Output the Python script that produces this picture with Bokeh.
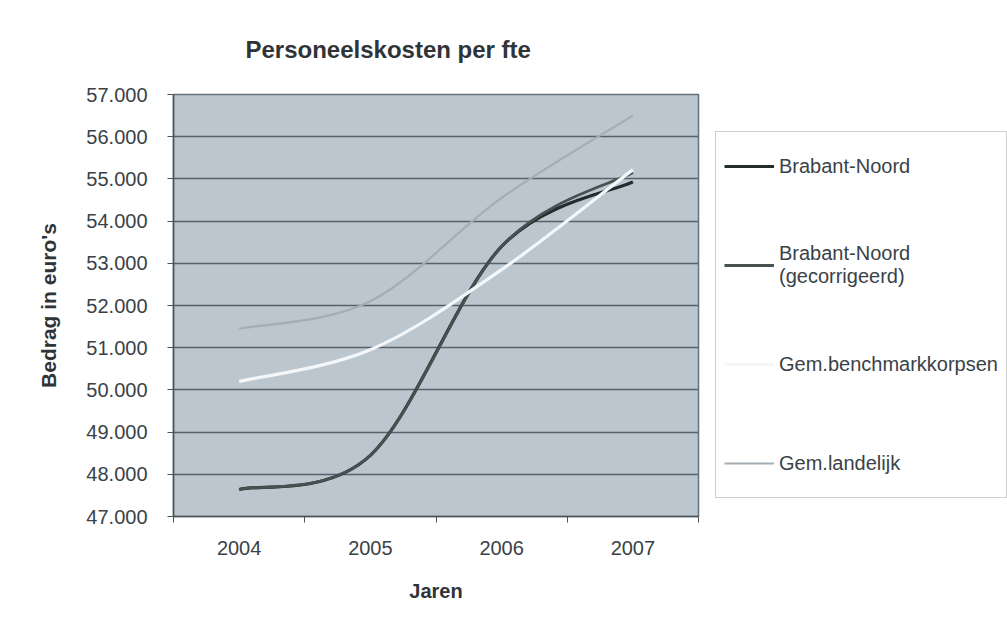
from bokeh.plotting import figure
from bokeh.models import ColumnDataSource, Range1d, FixedTicker, Legend, LegendItem
from bokeh.embed import file_html
from bokeh.resources import INLINE

# ---- data ----
years = [2004, 2005, 2006, 2007]
brabant_noord = [47640, 48450, 53400, 54930]
brabant_noord_gecorrigeerd = [47640, 48450, 53400, 55150]
gem_benchmarkkorpsen = [50200, 50950, 52850, 55220]
gem_landelijk = [51450, 52100, 54550, 56500]
series_labels = ["Brabant-Noord", "Brabant-Noord\n(gecorrigeerd)",
                 "Gem.benchmarkkorpsen", "Gem.landelijk"]
y_ticks = [47000, 48000, 49000, 50000, 51000, 52000, 53000, 54000, 55000, 56000, 57000]
y_tick_labels = ["47.000", "48.000", "49.000", "50.000", "51.000", "52.000",
                 "53.000", "54.000", "55.000", "56.000", "57.000"]
x_tick_labels = ["2004", "2005", "2006", "2007"]

FONT = "Liberation Sans"


def smooth_source(xs, ys):
    """Bezier segments between the data points (Excel-style smoothed line)."""
    n = len(xs)
    d = dict(x0=[], y0=[], x1=[], y1=[], cx0=[], cy0=[], cx1=[], cy1=[])
    for i in range(n - 1):
        xp, yp = (xs[i - 1], ys[i - 1]) if i > 0 else (xs[i], ys[i])
        xn, yn = (xs[i + 2], ys[i + 2]) if i + 2 < n else (xs[i + 1], ys[i + 1])
        d["x0"].append(xs[i]); d["y0"].append(ys[i])
        d["x1"].append(xs[i + 1]); d["y1"].append(ys[i + 1])
        d["cx0"].append(xs[i] + (xs[i + 1] - xp) / 6)
        d["cy0"].append(ys[i] + (ys[i + 1] - yp) / 6)
        d["cx1"].append(xs[i + 1] - (xn - xs[i]) / 6)
        d["cy1"].append(ys[i + 1] - (yn - ys[i]) / 6)
    return ColumnDataSource(d)


p = figure(frame_width=525, frame_height=422, output_backend="svg", toolbar_location=None,
           x_range=Range1d(2003.5, 2007.5), y_range=Range1d(47000, 57000),
           min_border_left=173, min_border_right=302, min_border_top=94,
           min_border_bottom=104)

p.background_fill_color = "#bcc6ce"
p.border_fill_color = "white"
p.outline_line_color = "#66707a"
p.outline_line_width = 1.5

# title
p.title.text = "Personeelskosten per fte"
p.title.text_font = FONT
p.title.text_font_size = "24px"
p.title.text_font_style = "bold"
p.title.text_color = "#2e3438"
p.title.align = "left"
p.title.offset = 72
p.title.standoff = 64

# y axis
p.yaxis.ticker = FixedTicker(ticks=y_ticks)
p.yaxis.major_label_overrides = {t: l for t, l in zip(y_ticks, y_tick_labels)}
p.yaxis.axis_label = "Bedrag in euro's"
p.yaxis.axis_label_text_font = FONT
p.yaxis.axis_label_text_font_size = "21px"
p.yaxis.axis_label_text_font_style = "bold"
p.yaxis.axis_label_text_color = "#2e3438"
p.yaxis.axis_label_standoff = 23
p.yaxis.major_label_text_font = FONT
p.yaxis.major_label_text_font_size = "20px"
p.yaxis.major_label_text_color = "#3a4247"
p.yaxis.major_label_standoff = 20
p.yaxis.major_tick_out = 6
p.yaxis.major_tick_in = 0
p.yaxis.minor_tick_out = 0
p.yaxis.minor_tick_in = 0
p.yaxis.axis_line_color = "#4a545a"
p.yaxis.axis_line_width = 1.5
p.yaxis.major_tick_line_color = "#4a545a"

# x axis: labels at years, ticks between categories
p.xaxis.ticker = FixedTicker(ticks=years,
                             minor_ticks=[2003.5, 2004.5, 2005.5, 2006.5, 2007.5])
p.xaxis.major_label_overrides = {y: l for y, l in zip(years, x_tick_labels)}
p.xaxis.axis_label = "Jaren"
p.xaxis.axis_label_text_font = FONT
p.xaxis.axis_label_text_font_size = "20px"
p.xaxis.axis_label_text_font_style = "bold"
p.xaxis.axis_label_text_color = "#2e3438"
p.xaxis.axis_label_standoff = 22
p.xaxis.major_label_text_font = FONT
p.xaxis.major_label_text_font_size = "20px"
p.xaxis.major_label_text_color = "#3a4247"
p.xaxis.major_label_standoff = 18
p.xaxis.major_tick_out = 0
p.xaxis.major_tick_in = 0
p.xaxis.minor_tick_out = 6
p.xaxis.minor_tick_in = 0
p.xaxis.minor_tick_line_color = "#4a545a"
p.xaxis.axis_line_color = "#4a545a"
p.xaxis.axis_line_width = 1.5

p.xgrid.visible = False
p.ygrid.ticker = FixedTicker(ticks=y_ticks)
p.ygrid.grid_line_color = "#56616a"
p.ygrid.grid_line_width = 1.5

series = [
    (brabant_noord, "#222c2c", 3.2),
    (brabant_noord_gecorrigeerd, "#465252", 2.8),
    (gem_benchmarkkorpsen, "#f4f7f9", 3.2),
    (gem_landelijk, "#a3adb2", 2.2),
]
renderers = []
for vals, color, width in series:
    r = p.bezier(x0="x0", y0="y0", x1="x1", y1="y1", cx0="cx0", cy0="cy0",
                 cx1="cx1", cy1="cy1", source=smooth_source(years, vals),
                 line_color=color, line_width=width)
    renderers.append(r)

items = [LegendItem(label=lab, renderers=[r]) for lab, r in zip(series_labels, renderers)]
legend = Legend(items=items, location=(17, 18))
legend.label_text_font = FONT
legend.label_text_font_size = "20px"
legend.label_text_color = "#3a4247"
legend.glyph_width = 50
legend.glyph_height = 24
legend.label_height = 52
legend.label_standoff = 5
legend.padding = 8
legend.spacing = 47
legend.margin = 0
legend.border_line_color = "#9aa2a6"
legend.border_line_width = 1.5
legend.background_fill_color = "white"
legend.background_fill_alpha = 1.0
p.add_layout(legend, "right")

open("out.html", "w").write(file_html(p, INLINE))
